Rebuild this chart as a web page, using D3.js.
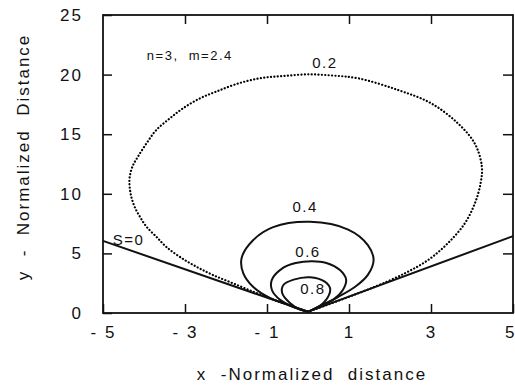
<!DOCTYPE html>
<html>
<head>
<meta charset="utf-8">
<script src="https://cdn.jsdelivr.net/npm/d3@7"></script>
<style>
  body { margin: 0; background: #fff; }
  svg { font-family: "Liberation Sans", Arial, sans-serif; }
</style>
</head>
<body>
<svg id="chart"></svg>
<script>
// contour values, [x, y] in normalized distance
var curve02 = [[0, 0.1], [-0.93, 1.23], [-1.34, 1.79], [-1.83, 2.49], [-2.32, 3.19], [-2.72, 3.88], [-3.13, 4.72], [-3.46, 5.56], [-3.7, 6.4], [-3.94, 7.24], [-4.1, 8.08], [-4.23, 8.92], [-4.31, 9.76], [-4.35, 10.6], [-4.35, 11.4], [-4.28, 12.3], [-4.15, 13.1], [-3.94, 14.23], [-3.7, 15.35], [-3.37, 16.33], [-3.05, 17.17], [-2.64, 18.0], [-2.24, 18.57], [-1.75, 19.2], [-1.18, 19.69], [-0.61, 19.88], [0, 20.02], [0.6, 19.92], [1.22, 19.69], [2.2, 18.7], [3.0, 17.6], [3.66, 15.9], [4.07, 14.2], [4.24, 12.3], [4.21, 10.9], [4.07, 9.2], [3.82, 7.5], [3.41, 5.85], [2.93, 4.45], [2.36, 3.33], [1.63, 2.2], [0.9, 1.23], [0, 0.1]]
var curve04 = [[0, 0.1], [-0.5, 0.7], [-0.93, 1.26], [-1.34, 2.2], [-1.58, 3.35], [-1.62, 4.6], [-1.34, 6.1], [-0.85, 7.2], [0.05, 7.65], [0.98, 7.0], [1.46, 5.7], [1.6, 4.45], [1.46, 3.2], [1.15, 2.2], [0.73, 1.34], [0.34, 0.67], [0, 0.1]]
var curve06 = [[0, 0.1], [-0.36, 0.5], [-0.68, 1.1], [-0.88, 1.93], [-0.88, 2.8], [-0.6, 3.8], [-0.3, 4.2], [0.1, 4.35], [0.45, 4.2], [0.78, 3.6], [0.93, 2.8], [0.85, 1.93], [0.61, 1.1], [0.24, 0.5], [0, 0.1]]
var curve08 = [[0, 0.1], [-0.2, 0.3], [-0.44, 0.84], [-0.63, 1.68], [-0.6, 2.35], [-0.35, 2.8], [0.05, 3.0], [0.4, 2.65], [0.54, 2.05], [0.48, 1.3], [0.25, 0.5], [0, 0.1]]
var lineS0 = [[-5, 6.05], [0, 0.1], [5, 6.45]]

var xTicks = [-5, -3, -1, 1, 3, 5]
var yTicks = [0, 5, 10, 15, 20, 25]
var innerXTicks = [-3, -1, 1, 3]
var innerYTicks = [5, 10, 15, 20]

// text labels at data coordinates
var labels = [
    { text: "0.2", x: 0.41, y: 20.55, anchor: "middle" },
    { text: "0.4", x: -0.07, y: 8.47, anchor: "middle" },
    { text: "0.6", x: 0, y: 4.7, anchor: "middle" },
    { text: "0.8", x: 0.12, y: 1.6, anchor: "middle" },
    { text: "S=0", x: -4.76, y: 5.7, anchor: "start" },
    { text: "n=3,  m=2.4", x: -3.93, y: 21.2, anchor: "start" }
]

var dimensions = {
    width: 515,
    height: 385,
    margin: { top: 15, bottom: 72, right: 2, left: 103 }
}

var svg = d3.select("#chart")
    .attr("width", dimensions.width)
    .attr("height", dimensions.height)

var xScale = d3.scaleLinear()
    .domain([-5, 5])
    .range([dimensions.margin.left, dimensions.width - dimensions.margin.right])

var yScale = d3.scaleLinear()
    .domain([0, 25])
    .range([dimensions.height - dimensions.margin.bottom, dimensions.margin.top])

var line = d3.line()
    .x(d => xScale(d[0]))
    .y(d => yScale(d[1]))
    .curve(d3.curveCatmullRom.alpha(0.5))

// dotted outer contour
svg.append("path")
    .attr("d", line(curve02))
    .attr("fill", "none")
    .attr("stroke", "#000")
    .attr("stroke-width", 2.2)
    .attr("stroke-linecap", "round")
    .attr("stroke-dasharray", "0.1,3.3")

svg.selectAll(".solid")
    .data([curve04, curve06, curve08])
    .enter()
    .append("path")
    .attr("class", "solid")
    .attr("d", line)
    .attr("fill", "none")
    .attr("stroke", "#111")
    .attr("stroke-width", 2)

svg.append("path")
    .attr("d", d3.line().x(d => xScale(d[0])).y(d => yScale(d[1]))(lineS0))
    .attr("fill", "none")
    .attr("stroke", "#111")
    .attr("stroke-width", 2)

// axes with inward ticks
var xAxis = svg.append("g")
    .attr("transform", `translate(0,${yScale(0)})`)
    .call(d3.axisBottom(xScale).tickValues(xTicks).tickSize(-9).tickPadding(13)
        .tickFormat(d => d < 0 ? "- " + Math.abs(d) : d))
// last label sits at the right edge
xAxis.selectAll(".tick text")
    .filter(d => d === 5)
    .attr("text-anchor", "end")
    .attr("x", 3)
var yAxis = svg.append("g")
    .attr("transform", `translate(${xScale(-5)},0)`)
    .call(d3.axisLeft(yScale).tickValues(yTicks).tickSize(-9).tickPadding(20))
var topAxis = svg.append("g")
    .attr("transform", `translate(0,${yScale(25)})`)
    .call(d3.axisTop(xScale).tickValues(innerXTicks).tickSize(-9).tickFormat(""))
var rightAxis = svg.append("g")
    .attr("transform", `translate(${xScale(5)},0)`)
    .call(d3.axisRight(yScale).tickValues(innerYTicks).tickSize(-10).tickFormat(""))

svg.selectAll(".domain").remove()
svg.selectAll(".tick line").attr("stroke", "#111").attr("stroke-width", 1.5)
svg.selectAll(".tick text")
    .attr("fill", "#111")
    .style("font-size", "17px")
    .style("letter-spacing", "2px")

// frame
svg.append("rect")
    .attr("x", xScale(-5))
    .attr("y", yScale(25))
    .attr("width", xScale(5) - xScale(-5))
    .attr("height", yScale(0) - yScale(25))
    .attr("fill", "none")
    .attr("stroke", "#111")
    .attr("stroke-width", 1.8)

svg.selectAll(".lab")
    .data(labels)
    .enter()
    .append("text")
    .attr("class", "lab")
    .attr("x", d => xScale(d.x))
    .attr("y", d => yScale(d.y))
    .attr("text-anchor", d => d.anchor)
    .style("font-size", d => d.text.length > 4 ? "13px" : "15px")
    .style("letter-spacing", "1.5px")
    .style("white-space", "pre")
    .attr("fill", "#111")
    .text(d => d.text)

svg.append("text")
    .attr("x", 312)
    .attr("y", 380)
    .attr("text-anchor", "middle")
    .style("font-size", "17px")
    .style("letter-spacing", "2px")
    .style("white-space", "pre")
    .attr("fill", "#111")
    .text("x  -Normalized  distance")

svg.append("text")
    .attr("transform", "translate(29,157)rotate(-90)")
    .attr("text-anchor", "middle")
    .style("font-size", "17px")
    .style("letter-spacing", "2px")
    .style("white-space", "pre")
    .attr("fill", "#111")
    .text("y  -  Normalized  Distance")
</script>
</body>
</html>
